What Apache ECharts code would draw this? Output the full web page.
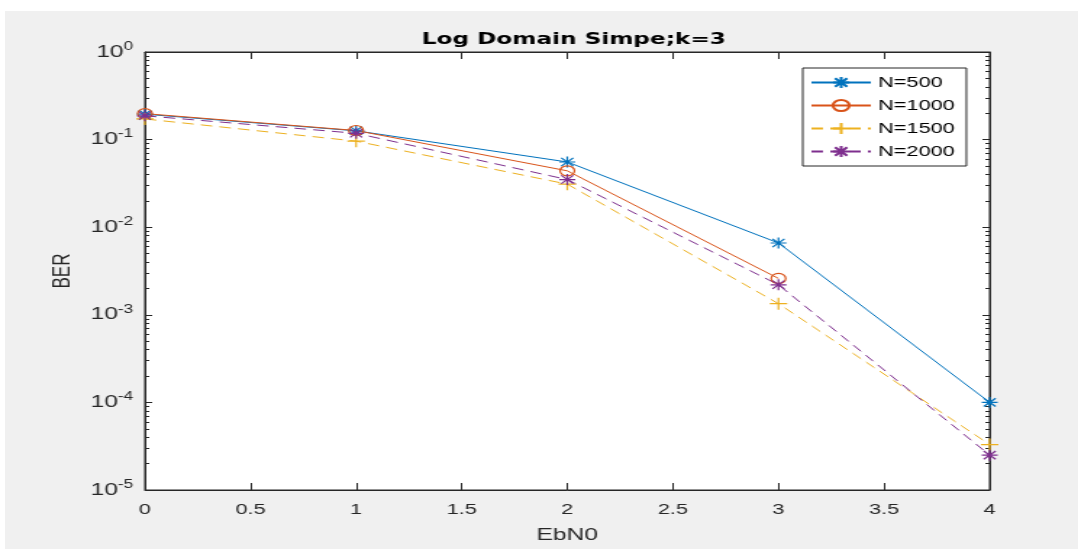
<!DOCTYPE html>
<html><head><meta charset="utf-8">
<script src="https://cdn.jsdelivr.net/npm/echarts@6/dist/echarts.min.js"></script>
<style>
html,body{margin:0;padding:0;background:#fff;overflow:hidden;}
#bg{position:absolute;left:5px;top:11px;width:1073px;height:538px;background:#f0f0f0;}
#c{position:absolute;left:0;top:0;width:744px;height:549px;transform:scaleX(1.449);transform-origin:0 0;}
</style>
</head><body><div id="bg"></div><div id="c"></div>
<script>
const ebn0 = [0, 1, 2, 3, 4];
const n500  = [0.195, 0.126, 0.0555, 0.0066, 0.0001];
const n1000 = [0.198, 0.127, 0.044, 0.0026, null];
const n1500 = [0.172, 0.096, 0.031, 0.00134, 0.000033];
const n2000 = [0.187, 0.118, 0.035, 0.0022, 0.000025];
const seriesNames = ['N=500', 'N=1000', 'N=1500', 'N=2000'];
const xTicks = [0, 0.5, 1, 1.5, 2, 2.5, 3, 3.5, 4];

const colors = ['#0072BD', '#D95319', '#EDB120', '#7E2F8E'];
const FONT = 'Liberation Sans';
const star = 'path://M0,-10L0,10M-10,0L10,0M-7.5,-7.5L7.5,7.5M-7.5,7.5L7.5,-7.5';
const plus = 'path://M0,-10L0,10M-10,0L10,0';
const minorVals = [];
for (let e = -5; e < 0; e++) for (let m = 2; m <= 9; m++) minorVals.push(+(m * Math.pow(10, e)).toPrecision(3));

function pairs(arr) { return ebn0.map((x, i) => [x, arr[i] == null ? '-' : arr[i]]); }

const styles = [
  {symbol: star, symbolSize: 11, type: 'solid'},
  {symbol: 'circle', symbolSize: 10, type: 'solid', hollow: true},
  {symbol: plus, symbolSize: 12, type: [8, 5]},
  {symbol: star, symbolSize: 11, type: [8, 5]}
];
const dataSets = [n500, n1000, n1500, n2000];

const series = seriesNames.map((name, i) => {
  const s = styles[i];
  return {
    name, type: 'line', xAxisIndex: 0, yAxisIndex: 0,
    data: pairs(dataSets[i]),
    symbol: s.symbol, symbolSize: s.symbolSize, showAllSymbol: true,
    lineStyle: {color: colors[i], width: 1, type: s.type},
    itemStyle: s.hollow ? {color: 'rgba(0,0,0,0)', borderColor: colors[i], borderWidth: 1.2}
                        : {color: colors[i], borderColor: colors[i], borderWidth: 1.2},
    emphasis: {disabled: true},
    animation: false, z: 3
  };
});

const yLabel = {
  fontFamily: FONT, fontSize: 17, color: '#262626', margin: 8,
  formatter: v => '{b|10}{s|' + Math.round(Math.log10(v)) + '}',
  rich: {b: {fontFamily: FONT, fontSize: 17, color: '#262626'},
         s: {fontFamily: FONT, fontSize: 12, color: '#262626', verticalAlign: 'top', padding: [0, 0, 11, 0]}}
};
const tickCol = '#262626';

const option = {
  backgroundColor: 'transparent',
  animation: false,
  title: {text: 'Log Domain Simpe;k=3', left: 391, textAlign: 'center', top: 27,
          textStyle: {fontFamily: 'DejaVu Sans', fontSize: 16, fontWeight: 'bold', color: '#000'}},
  grid: {show: true, backgroundColor: '#fff', borderColor: tickCol, borderWidth: 1,
         left: 100, top: 52, right: 61, bottom: 55},
  legend: {
    orient: 'vertical', left: 554, top: 68,
    backgroundColor: '#fff', borderColor: tickCol, borderWidth: 1, borderRadius: 0,
    padding: [7, 8, 7, 5], itemWidth: 41, itemHeight: 14, itemGap: 8,
    textStyle: {fontFamily: FONT, fontSize: 15, color: '#000'},
    data: seriesNames
  },
  xAxis: [
    {type: 'value', min: 0, max: 4, interval: 0.5, position: 'bottom',
     name: 'EbN0', nameLocation: 'middle', nameGap: 37,
     nameTextStyle: {fontFamily: FONT, fontSize: 17, color: '#262626'},
     axisLine: {show: true, lineStyle: {color: tickCol}},
     axisTick: {show: true, inside: true, length: 7, lineStyle: {color: tickCol}},
     axisLabel: {fontFamily: FONT, fontSize: 15, color: '#262626', margin: 12,
                 formatter: v => String(xTicks.find(t => Math.abs(t - v) < 1e-9) ?? v)},
     splitLine: {show: false}},
    {type: 'value', min: 0, max: 4, interval: 0.5, position: 'top',
     axisLine: {show: true, lineStyle: {color: tickCol}},
     axisTick: {show: true, inside: true, length: 7, lineStyle: {color: tickCol}},
     axisLabel: {show: false}, splitLine: {show: false}}
  ],
  yAxis: [
    {type: 'log', logBase: 10, min: 1e-5, max: 1, position: 'left',
     name: 'BER', nameLocation: 'middle', nameGap: 46, nameRotate: 90,
     nameTextStyle: {fontFamily: FONT, fontSize: 17, color: '#262626'},
     axisLine: {show: true, lineStyle: {color: tickCol}},
     axisTick: {show: true, inside: true, length: 5, lineStyle: {color: tickCol}},
     axisLabel: yLabel, splitLine: {show: false}},
    {type: 'log', logBase: 10, min: 1e-5, max: 1, position: 'left',
     axisLine: {show: false},
     axisTick: {show: true, inside: true, length: 3, customValues: minorVals, lineStyle: {color: tickCol}},
     axisLabel: {show: false}, splitLine: {show: false}},
    {type: 'log', logBase: 10, min: 1e-5, max: 1, position: 'right',
     axisLine: {show: true, lineStyle: {color: tickCol}},
     axisTick: {show: true, inside: true, length: 5, lineStyle: {color: tickCol}},
     axisLabel: {show: false}, splitLine: {show: false}},
    {type: 'log', logBase: 10, min: 1e-5, max: 1, position: 'right',
     axisLine: {show: false},
     axisTick: {show: true, inside: true, length: 3, customValues: minorVals, lineStyle: {color: tickCol}},
     axisLabel: {show: false}, splitLine: {show: false}}
  ],
  series
};
const chart = echarts.init(document.getElementById('c'), null, {renderer: 'canvas'});
chart.setOption(option);
</script>
</body></html>
